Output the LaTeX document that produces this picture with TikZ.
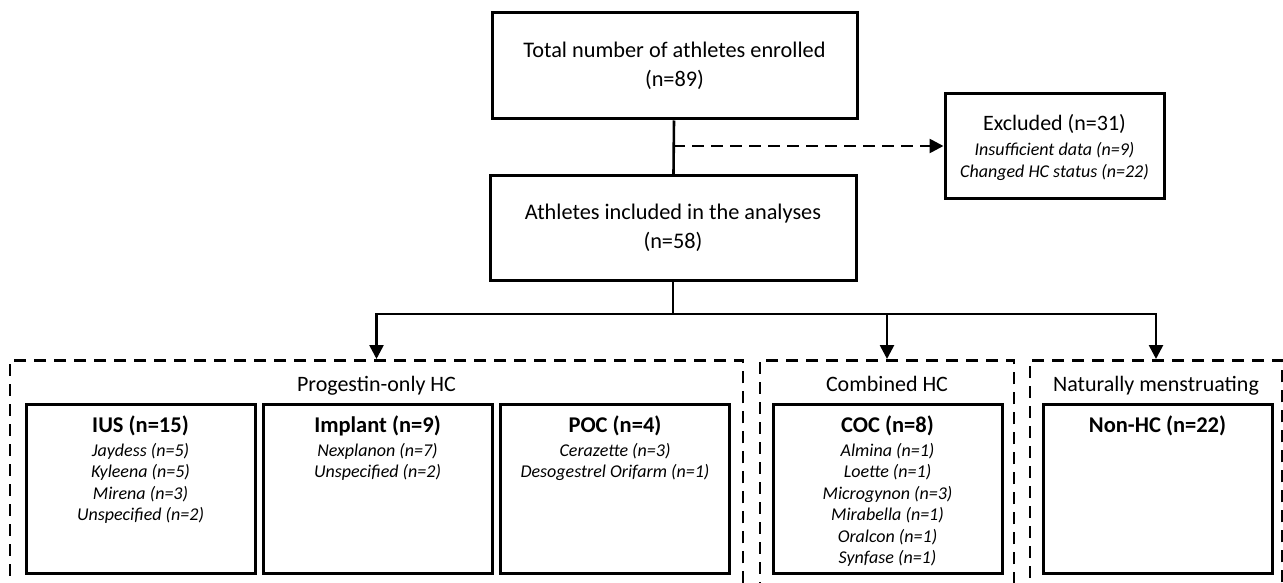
\documentclass[tikz,border=0pt]{standalone}
\usepackage{fontspec}
\setmainfont{Carlito}
\usetikzlibrary{arrows.meta}

\tikzset{
	mainbox/.style={draw, line width=3pt, inner sep=0pt, align=center},
	groupbox/.style={draw, line width=2.8pt, dash pattern=on 12pt off 8pt, inner sep=0pt},
	conn/.style={line width=2.6pt},
	tip/.style={-{Triangle[length=14pt,width=14pt]}},
	bigtxt/.style={font=\fontsize{22.3}{29}\selectfont},
	grptxt/.style={font=\fontsize{22}{26}\selectfont},
	itmtxt/.style={anchor=north, align=center, font=\fontsize{18}{21.5}\selectfont\itshape},
}
\newcommand{\ttl}[1]{{\fontsize{22.5}{26}\selectfont\bfseries\upshape #1}}

\begin{document}
\begin{tikzpicture}[x=1pt, y=-1pt]
	\useasboundingbox (0,0) rectangle (1283,583);
	% top of the flow
	\node[mainbox, bigtxt, minimum width=365pt, minimum height=106pt] (total) at (674.5,66) {Total number of athletes enrolled\\(n=89)};
	\node[mainbox, bigtxt, minimum width=366pt, minimum height=104pt] (incl) at (673,228) {Athletes included in the analyses\\(n=58)};
	\node[mainbox, font=\fontsize{18}{22.5}\selectfont\itshape, minimum width=219pt, minimum height=104pt, text depth=0pt] (excl) at (1054.5,146) {{\fontsize{22}{26}\selectfont\upshape Excluded (n=31)}\\[2pt]Insufficient data (n=9)\\Changed HC status (n=22)};
	\coordinate (split) at (673,146);
	\draw[conn] (total) -- (incl);
	\draw[conn, tip, dash pattern=on 12pt off 7pt] (split) -- (excl);
	% groups
	\node[groupbox, minimum width=733pt, minimum height=250pt, anchor=north] (prog) at (376.5,359) {};
	\node[groupbox, minimum width=254pt, minimum height=250pt, anchor=north] (comb) at (887,359) {};
	\node[groupbox, minimum width=252pt, minimum height=250pt, anchor=north] (nat) at (1156,359) {};
	\node[grptxt, anchor=base] (progl) at (376.5,391) {Progestin-only HC};
	\node[grptxt, anchor=base] (combl) at (887,391) {Combined HC};
	\node[grptxt, anchor=base] (natl) at (1156,391) {Naturally menstruating};
	\coordinate (bus) at (673,314);
	\draw[conn] (incl) -- (bus);
	\draw[conn, tip] (bus) -| (prog.north);
	\draw[conn, tip] (bus) -| (comb.north);
	\draw[conn, tip] (bus) -| (nat.north);
	% method boxes
	\foreach \nm/\cx in {ius/140.5, impl/377.5, poc/615, coc/887.5, nonhc/1157.5}
		\node[mainbox, minimum width=229pt, minimum height=169pt] (\nm) at (\cx,488.5) {};
	\node[itmtxt] (iust) at ([yshift=-10pt]ius.north) {\ttl{IUS (n=15)}\\[2pt]Jaydess (n=5)\\Kyleena (n=5)\\Mirena (n=3)\\Unspecified (n=2)};
	\node[itmtxt] (implt) at ([yshift=-10pt]impl.north) {\ttl{Implant (n=9)}\\[2pt]Nexplanon (n=7)\\Unspecified (n=2)};
	\node[itmtxt] (poct) at ([yshift=-10pt]poc.north) {\ttl{POC (n=4)}\\[2pt]Cerazette (n=3)\\Desogestrel Orifarm (n=1)};
	\node[itmtxt] (coct) at ([yshift=-10pt]coc.north) {\ttl{COC (n=8)}\\[2pt]Almina (n=1)\\Loette (n=1)\\Microgynon (n=3)\\Mirabella (n=1)\\Oralcon (n=1)\\Synfase (n=1)};
	\node[itmtxt] (nonhct) at ([yshift=-10pt]nonhc.north) {\ttl{Non-HC (n=22)}};
\end{tikzpicture}
\end{document}
